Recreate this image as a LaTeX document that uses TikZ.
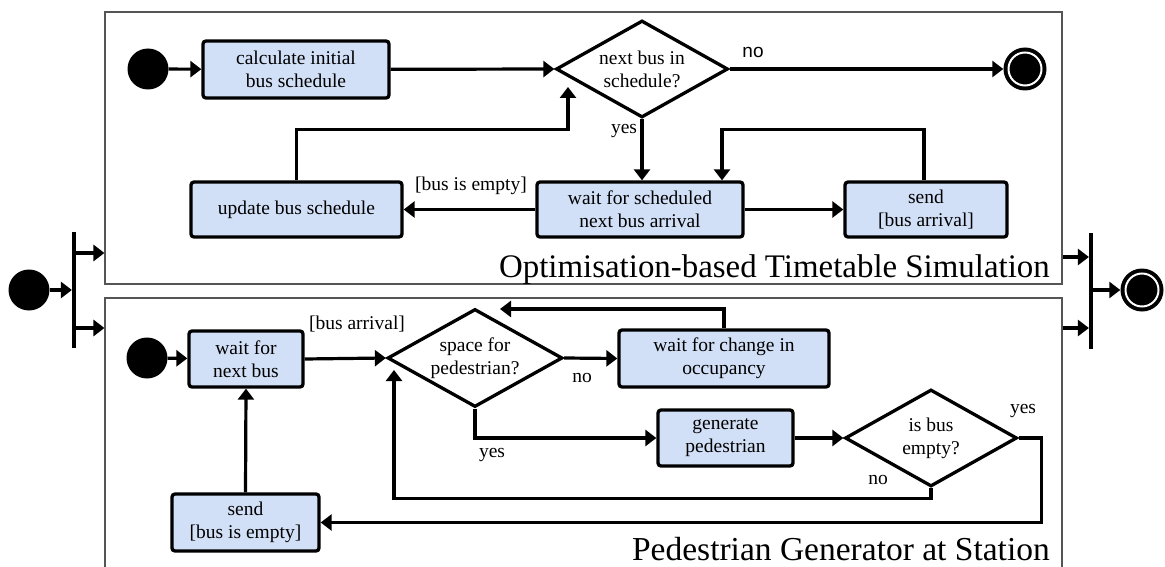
\documentclass[tikz,border=0pt]{standalone}
\usepackage{fontspec}
\setmainfont{Liberation Serif}
\newfontfamily\sansf{Liberation Sans}
\usetikzlibrary{arrows.meta,shapes.geometric}
\definecolor{actfill}{HTML}{D2E0F7}
\definecolor{lanegray}{HTML}{555555}
\begin{document}
\begin{tikzpicture}[x=1pt,y=-1pt,
  every node/.style={font=\fontsize{19.5}{23}\selectfont},
  action/.style={draw=black,fill=actfill,line width=3.3pt,rounded corners=3pt,
    align=center,inner sep=0pt},
  decision/.style={draw=black,fill=white,line width=3.3pt,diamond,inner sep=0pt},
  dtext/.style={align=center,inner sep=0pt},
  initial/.style={circle,fill=black,minimum size=41pt,inner sep=0pt},
  final/.style={circle,fill=black,minimum size=43pt,inner sep=0pt,
    path picture={\draw[white,line width=2pt] (path picture bounding box.center) circle (16.5pt);}},
  bar/.style={fill=black,minimum width=3.8pt,minimum height=116pt,inner sep=0pt},
  lane/.style={draw=lanegray,line width=1.1pt,inner sep=0pt},
  arr/.style={line width=3.2pt,-{Triangle[length=11pt,width=16pt]}},
  title/.style={font=\fontsize{33.5}{36}\selectfont,anchor=base east,inner sep=0pt},
  guard/.style={inner sep=0pt}
]
\useasboundingbox (0,0) rectangle (1165,567);

% swimlanes
\node[lane,minimum width=957pt,minimum height=272pt] (lane1) at (583.5,148) {};
\node[lane,minimum width=957pt,minimum height=302pt] (lane2) at (583.5,449) {};
\node[title,font=\fontsize{32.9}{36}\selectfont] at (1050,277) {Optimisation-based Timetable Simulation};
\node[title] at (1050,560) {Pedestrian Generator at Station};

% outer fork / join
\node[initial] (i0) at (29,290) {};
\node[bar] (fork) at (74,290) {};
\node[bar] (join) at (1091,290.5) {};
\node[final] (f0) at (1142,290) {};
\draw[arr] (i0) -- (fork.west);
\draw[arr] (fork.east |- 0,253) -- (lane1.west |- 0,253);
\draw[arr] (fork.east |- 0,328) -- (lane2.west |- 0,328);
\draw[arr] (lane1.east |- 0,257) -- (join.west |- 0,257);
\draw[arr] (lane2.east |- 0,328) -- (join.west |- 0,328);
\draw[arr] (join.east |- f0) -- (f0);

% timetable simulation
\node[initial] (i1) at (148,69) {};
\node[action,minimum width=186pt,minimum height=57pt] (calc) at (296,69.5) {calculate initial\\bus schedule};
\node[decision,minimum width=172pt,minimum height=97pt] (d1) at (642,69) {};
\node[dtext] at (d1) {next bus in\\schedule?};
\node[final] (f1) at (1025,69) {};
\node[action,minimum width=211pt,minimum height=55pt] (update) at (296.5,209.5) {update bus schedule};
\node[action,minimum width=206pt,minimum height=55pt] (waitsched) at (640,209.5) {wait for scheduled\\next bus arrival};
\node[action,minimum width=162pt,minimum height=55pt] (sendarr) at (926,209.5) {send\\{[bus arrival]}};
\coordinate (d1in) at (568,87);

\draw[arr] (i1) -- (calc);
\draw[arr] (calc) -- (d1.west);
\draw[arr] (d1.east) -- (f1);
\node[guard,font=\sansf\fontsize{19}{22}\selectfont] at (753,52) {no};
\draw[arr] (d1.south) -- (d1.south |- waitsched.north);
\node[guard] at (624,131) {yes};
\draw[arr] (waitsched.east) -- (sendarr.west);
\draw[arr] ([xshift=-2pt]sendarr.north) -- ++(0,-51) -| ([xshift=82pt]waitsched.north);
\draw[arr] (waitsched.west) -- (update.east);
\node[guard] at (471,186) {[bus is empty]};
\draw[arr] (update.north) -- ++(0,-51) -| (d1in);

% pedestrian generator
\node[initial] (i2) at (147,358) {};
\node[action,minimum width=114pt,minimum height=56pt] (waitbus) at (246,359) {wait for\\next bus};
\node[decision,minimum width=175pt,minimum height=98pt] (d2) at (475,358) {};
\node[dtext] at (d2) {space for\\pedestrian?};
\node[action,minimum width=210pt,minimum height=57pt] (change) at (724,358.5) {wait for change in\\occupancy};
\node[action,minimum width=135pt,minimum height=56pt] (gen) at (725.5,438) {generate\\pedestrian};
\node[decision,minimum width=172pt,minimum height=97pt] (d3) at (931,438) {};
\node[dtext] at (d3) {is bus\\empty?};
\node[action,minimum width=147pt,minimum height=57pt] (sendempty) at (245.5,522.5) {send\\{[bus is empty]}};
\coordinate (d2top) at (500,309);
\coordinate (d2in) at (394,370);

\draw[arr] (i2) -- (waitbus);
\draw[arr] (waitbus.east) -- (d2.west);
\node[guard] at (357,324) {[bus arrival]};
\draw[arr] (d2.east) -- (change.west);
\node[guard] at (582,378) {no};
\draw[arr] (change.north) |- (d2top);
\draw[arr] (d2.south) |- (gen.west);
\node[guard] at (492,455) {yes};
\draw[arr] (gen.east) -- (d3.west);
\draw[arr] (d3.south) -- ++(0,10) -| (d2in);
\node[guard] at (878,480) {no};
\draw[arr] (d3.east) -- ++(23,0) |- (sendempty.east);
\node[guard] at (1023,411) {yes};
\draw[arr] (sendempty.north) -- (waitbus.south);
\end{tikzpicture}
\end{document}
